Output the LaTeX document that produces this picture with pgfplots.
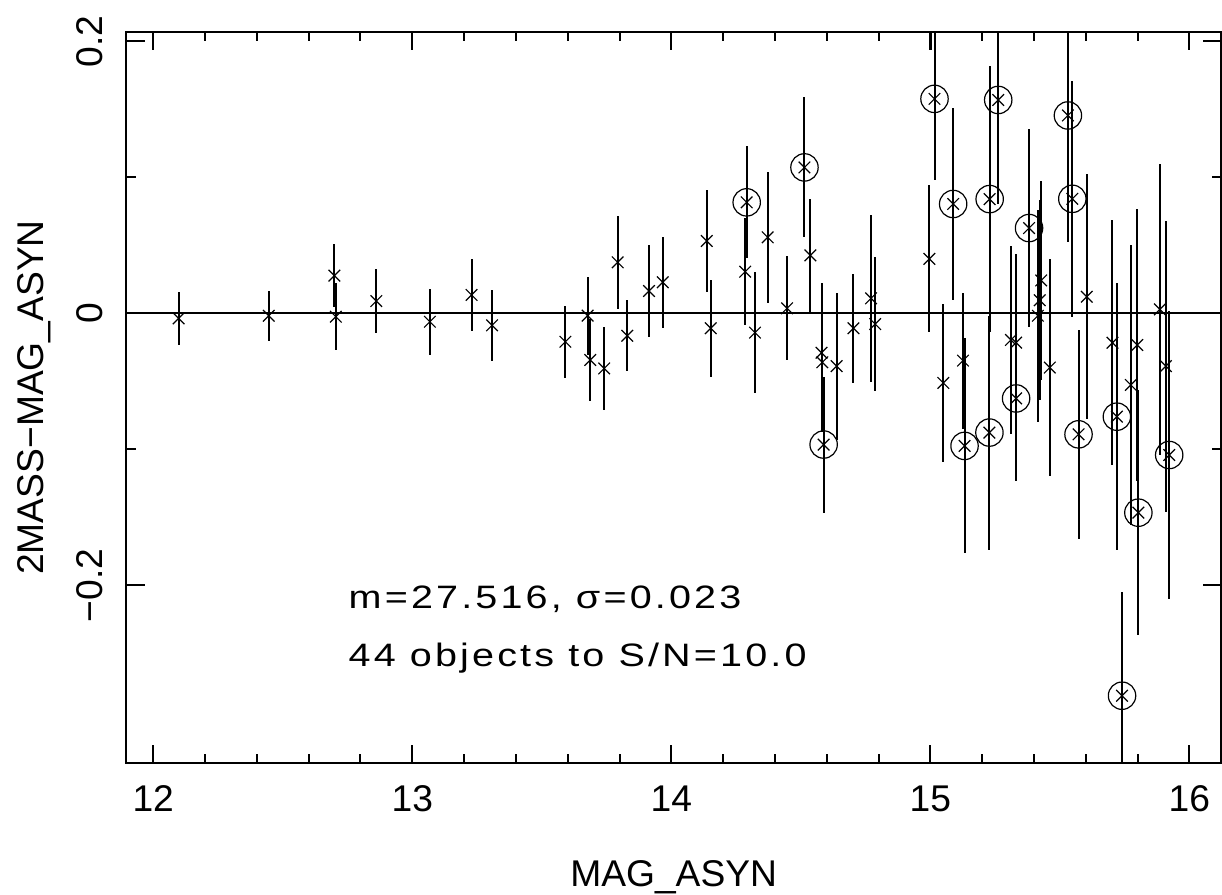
\documentclass[border=0pt]{standalone}
\usepackage{fontspec}
\setmainfont{Liberation Sans}
\newfontfamily\annotfont{Liberation Sans}[LetterSpace=8]
\usepackage{graphicx}
\usepackage{pgfplots}
\usepackage{pgfplotstable}
\pgfplotsset{compat=1.18}

\pgfplotstableread{
x y e
12.098 -0.0037 0.0196
12.446 -0.0018 0.0182
12.699 0.0277 0.0233
12.705 -0.0025 0.0245
12.861 0.0090 0.0233
13.068 -0.0062 0.0243
13.229 0.0135 0.0263
13.308 -0.0088 0.0262
13.591 -0.0209 0.0263
13.677 -0.0017 0.0287
13.687 -0.0343 0.0300
13.741 -0.0405 0.0303
13.793 0.0375 0.0343
13.830 -0.0165 0.0262
13.914 0.0164 0.0336
13.967 0.0228 0.0335
14.137 0.0532 0.0375
14.152 -0.0110 0.0355
14.285 0.0306 0.0395
14.323 -0.0142 0.0445
14.372 0.0559 0.0483
14.447 0.0037 0.0383
14.537 0.0426 0.0413
14.580 -0.0290 0.0510
14.583 -0.0360 0.0510
14.638 -0.0388 0.0540
14.703 -0.0110 0.0400
14.771 0.0110 0.0615
14.787 -0.0079 0.0490
14.996 0.0400 0.0540
15.050 -0.0512 0.0580
15.126 -0.0348 0.0500
15.311 -0.0196 0.0690
15.331 -0.0216 0.0650
15.415 -0.0018 0.0780
15.422 0.0096 0.0735
15.428 0.0242 0.0730
15.461 -0.0399 0.0800
15.604 0.0122 0.0900
15.703 -0.0216 0.0900
15.774 -0.0527 0.1030
15.799 -0.0233 0.1000
15.886 0.0029 0.1070
15.909 -0.0388 0.1070
}\good

\pgfplotstableread{
x y e
14.291 0.0816 0.0412
14.514 0.1073 0.0515
14.588 -0.0965 0.0500
15.001 0.2550 0.0614
15.016 0.1577 0.0600
15.088 0.0804 0.0705
15.132 -0.0975 0.0790
15.228 -0.0877 0.0860
15.229 0.0840 0.0980
15.262 0.1569 0.0765
15.331 -0.0626 0.0610
15.381 0.0627 0.0730
15.531 0.1455 0.0930
15.548 0.0842 0.0870
15.572 -0.0890 0.0770
15.720 -0.0760 0.0980
15.740 -0.2812 0.0765
15.803 -0.1466 0.0900
15.922 -0.1042 0.1060
}\bad

\newcommand{\tickfont}{\fontsize{18.6}{22}\selectfont}
\newcommand{\annfont}{\annotfont\fontsize{16.2}{19}\selectfont}

\begin{document}
\begin{tikzpicture}
\useasboundingbox (-63.15pt,-65.85pt) rectangle (547.85pt,381.65pt);
\begin{axis}[
  scale only axis,
  width=547.35pt, height=365.8pt,
  xmin=11.896, xmax=16.122, ymin=-0.3309, ymax=0.2071,
  axis line style={line width=1pt, black},
  xtick={12,13,14,15,16}, xticklabels={12,13,14,15,16},
  minor x tick num=4,
  ytick={-0.2,0,0.2}, yticklabels={−0.2,0,0.2},
  minor y tick num=1,
  major tick length=9.25pt, minor tick length=4.75pt,
  tick align=inside,
  every tick/.style={line width=1pt, black},
  ticklabel style={font=\tickfont},
  xticklabel style={anchor=base, yshift=-24.2pt},
  yticklabel style={xshift=-12pt, rotate=90, anchor=base},
  clip=true,
]
\addplot[black, line width=1pt, forget plot] coordinates {(11.8,0) (16.3,0)};

\addplot[black, only marks, mark=x, mark size=4.1pt,
  mark options={line width=0.6pt},
  error bars/.cd, y dir=both, y explicit, error mark=none,
  error bar style={line width=1pt, black}]
  table[x=x, y=y, y error=e] {\good};

\addplot[black, only marks, mark=x, mark size=4.1pt,
  mark options={line width=0.6pt},
  error bars/.cd, y dir=both, y explicit, error mark=none,
  error bar style={line width=1pt, black}]
  table[x=x, y=y, y error=e] {\bad};

\addplot[black, only marks, mark=o, mark size=6.85pt,
  mark options={line width=0.6pt}]
  table[x=x, y=y] {\bad};

\node[anchor=base west, font=\annfont, inner sep=0pt] at (axis cs:12.753,-0.2169) {\scalebox{1.22}[1]{m=27.516, σ=0.023}};
\node[anchor=base west, font=\annfont, inner sep=0pt] at (axis cs:12.753,-0.2599) {\scalebox{1.22}[1]{44 objects to S/N=10.0}};
\end{axis}
\node[anchor=base, font=\tickfont, inner sep=0pt] at (273.675pt,-61.5pt) {MAG\_ASYN};
\node[rotate=90, anchor=base, font=\tickfont, inner sep=0pt] at (-41.5pt,182.9pt) {2MASS−MAG\_ASYN};
\end{tikzpicture}
\end{document}
